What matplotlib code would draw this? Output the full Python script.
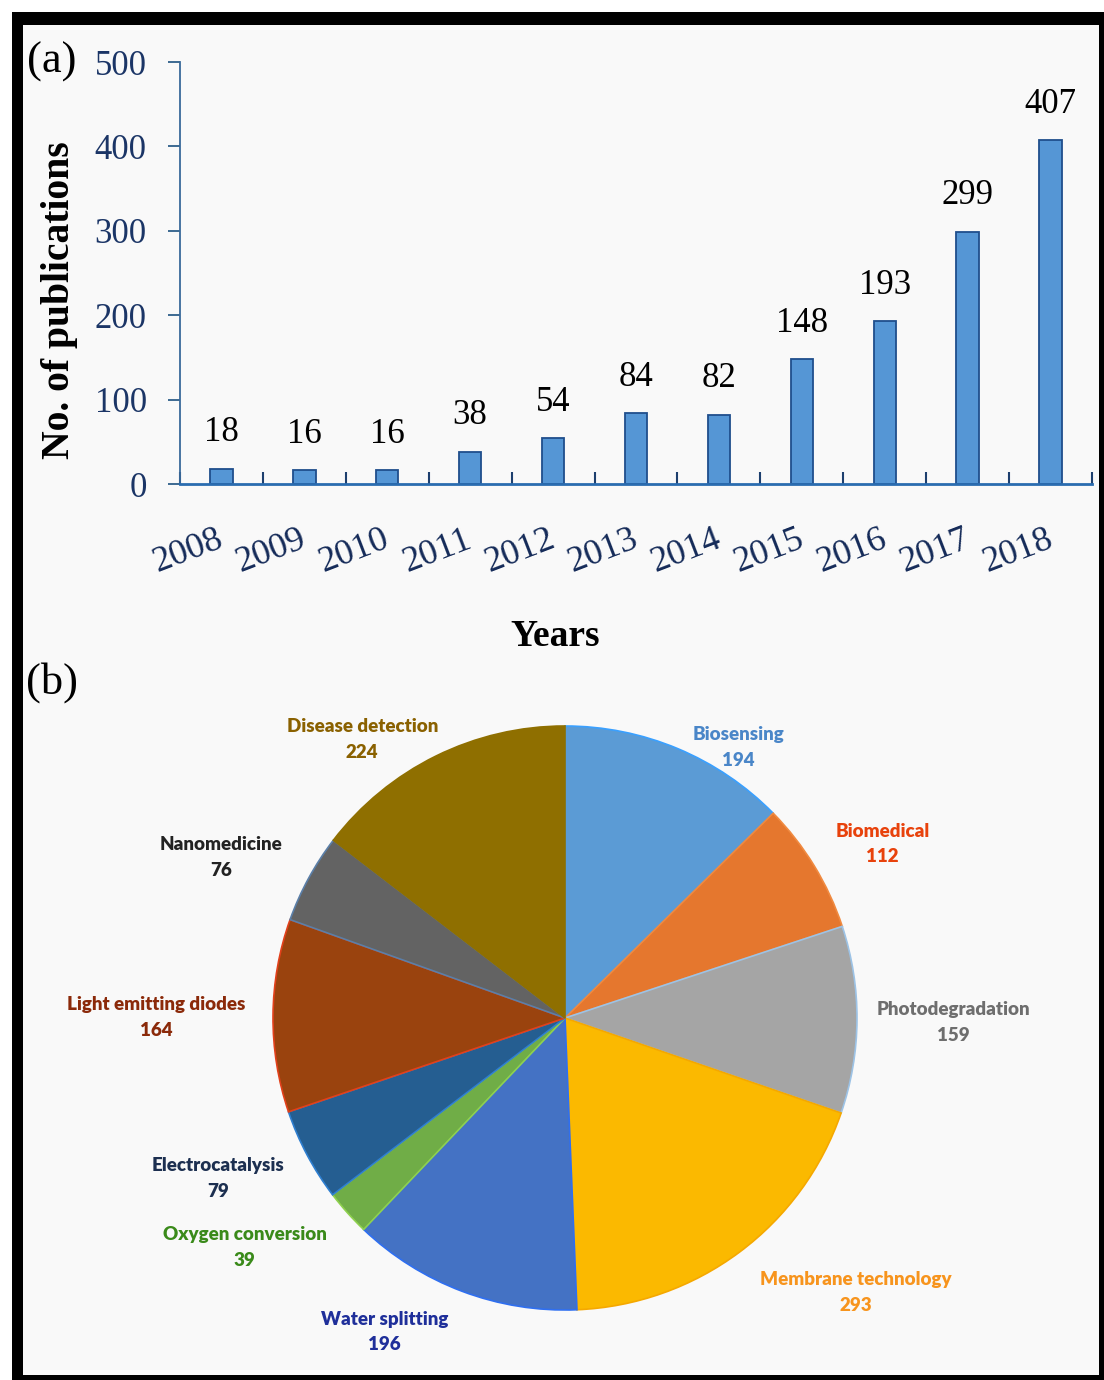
import matplotlib
matplotlib.use('Agg')
import matplotlib.pyplot as plt
from matplotlib.patches import Rectangle
from matplotlib.transforms import ScaledTranslation
import numpy as np

# (a) publications per year
years = ['2008', '2009', '2010', '2011', '2012', '2013', '2014', '2015', '2016', '2017', '2018']
pubs = [18, 16, 16, 38, 54, 84, 82, 148, 193, 299, 407]

# (b) application areas
areas = ['Biosensing', 'Biomedical', 'Photodegradation', 'Membrane technology',
         'Water splitting', 'Oxygen conversion', 'Electrocatalysis',
         'Light emitting diodes', 'Nanomedicine', 'Disease detection']
counts = [194, 112, 159, 293, 196, 39, 79, 164, 76, 224]

wedge_colors = ['#5b9bd5', '#e5772e', '#a5a5a5', '#fbb900', '#4472c4',
                '#70ad47', '#255e91', '#9a430e', '#636363', '#8f6f00']
edge_colors = ['#3aa0ff', '#f08a40', '#9dc3e6', '#f5a800', '#2f6ff0',
               '#8fd14f', '#2f7fd0', '#e2401a', '#5b7fa8', '#8f6f00']
text_colors = ['#4a86c8', '#e8420c', '#6e6e6e', '#f7941d', '#1f2f9a',
               '#3a8a1a', '#1c2f50', '#8b2a0a', '#222222', '#8a6100']
# label placement: (angle shift from wedge middle in degrees, distance in radii)
label_pos = [(-9.9, 1.10), (-2.7, 1.24), (-0.3, 1.33), (10.0, 1.37), (-9.3, 1.24),
             (-6.2, 1.35), (-3.2, 1.31), (0.4, 1.40), (3.6, 1.30), (9.8, 1.18)]

W, H = 1104, 1380
fig = plt.figure(figsize=(W / 100, H / 100), dpi=100)
fig.patch.set_facecolor('white')

# black frame and light inner panel
fig.add_artist(Rectangle((12 / W, 0), 1 - 12 / W, 1 - 12 / H, transform=fig.transFigure,
                         facecolor='black', edgecolor='none', zorder=-10))
fig.add_artist(Rectangle((23 / W, 5 / H), (1099 - 23) / W, (1355 - 5) / H,
                         transform=fig.transFigure, facecolor='#f9f9f9',
                         edgecolor='none', zorder=-9))

serif = 'Liberation Serif'
navy = '#1b3566'

# ---- bar chart ----
ax1 = fig.add_axes([180 / W, 1 - 484 / H, 912 / W, 422 / H])
ax1.set_facecolor('none')
x = np.arange(len(years))
bars = ax1.bar(x, pubs, width=0.27, color='#5596d5', edgecolor='#1f4e8c', linewidth=1.3)
ax1.bar_label(bars, labels=[str(v) for v in pubs], padding=14, fontsize=25,
              family=serif, color='black')
ax1.set_xlim(-0.5, len(years) - 0.5)
ax1.set_ylim(0, 500)
ax1.set_yticks(range(0, 501, 100))
ax1.set_xticks(x)
ax1.set_xticklabels(years, rotation=21, fontsize=26, family=serif, color='#142a58')
ax1.set_xticks(np.arange(-0.5, len(years), 1.0), minor=True)
ax1.tick_params(axis='x', which='major', length=0, pad=28)
ax1.tick_params(axis='x', which='minor', direction='in', length=9, width=1.5, color='#1d3f6e')
ax1.tick_params(axis='y', direction='out', length=9, width=1.3, color='#2e5f8a',
                labelsize=25, labelcolor=navy, pad=15)
for lab in ax1.get_yticklabels():
    lab.set_family(serif)
for lab in ax1.get_xticklabels():
    lab.set_transform(lab.get_transform() + ScaledTranslation(-0.33, 0, fig.dpi_scale_trans))
for side in ['top', 'right']:
    ax1.spines[side].set_visible(False)
ax1.spines['left'].set_color('#3a6a9a')
ax1.spines['left'].set_linewidth(1.3)
ax1.spines['bottom'].set_color('#2a6cb0')
ax1.spines['bottom'].set_linewidth(2)

ax1.set_ylabel('No. of publications', fontsize=28.5, fontweight='bold', family=serif,
               color='black', va='center')
ax1.yaxis.set_label_coords((60 - 180) / 912, (484 - 300) / 422)
ax1.set_xlabel('Years', fontsize=27, fontweight='bold', family=serif, color='black',
               va='center')
ax1.xaxis.set_label_coords((555 - 180) / 912, (484 - 636) / 422)

fig.text(52 / W, 1 - 62 / H, '(a)', fontsize=32, family=serif, ha='center', va='center')
fig.text(52 / W, 1 - 683 / H, '(b)', fontsize=32, family=serif, ha='center', va='center')

# ---- pie chart ----
R = 292
half = 350
ax2 = fig.add_axes([(565 - half) / W, 1 - (1018 + half) / H, 2 * half / W, 2 * half / H])
wedges, _ = ax2.pie(counts, colors=wedge_colors, startangle=90, counterclock=False,
                    radius=1, wedgeprops=dict(linewidth=1.2))
for w, ec in zip(wedges, edge_colors):
    w.set_edgecolor(ec)
ax2.set_xlim(-half / R, half / R)
ax2.set_ylim(-half / R, half / R)
ax2.axis('off')

for w, name, n, tc, (dth, dist) in zip(wedges, areas, counts, text_colors, label_pos):
    mid = np.deg2rad((w.theta1 + w.theta2) / 2 + dth)
    ax2.text(dist * np.cos(mid), dist * np.sin(mid), f'{name}\n{n}', ha='center',
             va='center', fontsize=13.5, fontweight='heavy', family='Lato', color=tc,
             linespacing=1.6, clip_on=False)

fig.savefig('out.png', dpi=100, facecolor=fig.get_facecolor())
